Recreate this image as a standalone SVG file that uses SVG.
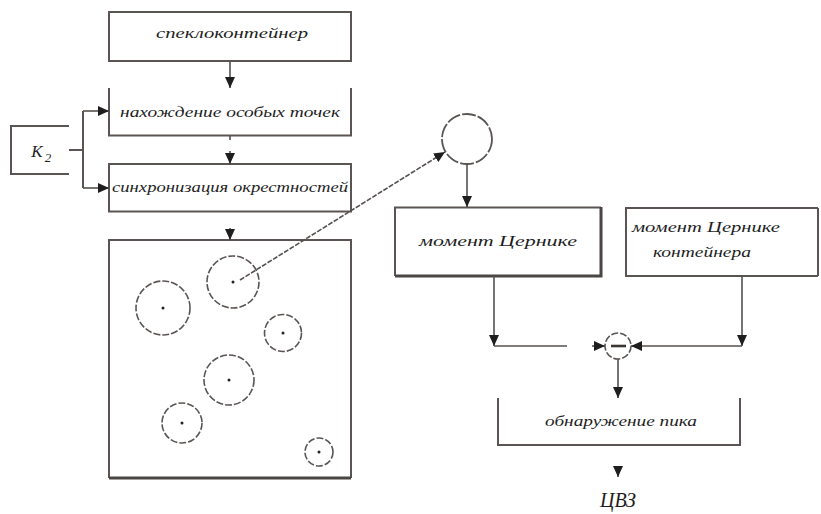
<svg xmlns="http://www.w3.org/2000/svg" width="821" height="514" viewBox="0 0 821 514">
<style>
.b{fill:none;stroke:#5a5552;stroke-width:2}
.bt{fill:none;stroke:#4a4644;stroke-width:3}
.t{font-family:"Liberation Serif","Times New Roman",serif;font-style:italic;font-size:15px;fill:#1e1e1e;text-anchor:middle}
.c{stroke:#55504d;stroke-width:1.6;fill:none}
.dc{fill:none;stroke:#5a5552;stroke-width:1.6;stroke-dasharray:7 2}
.dot{fill:#222}
</style>
<defs>
<marker id="ah" markerUnits="userSpaceOnUse" markerWidth="12" markerHeight="10" refX="11" refY="5" orient="auto">
<path d="M0,0 L11,5 L0,10 Z" fill="#1e1e1e"/>
</marker>
</defs>
<rect width="821" height="514" fill="#fff"/>

<g id="speckle">
<rect class="b" x="109" y="12" width="242" height="49"/>
<text class="t" x="232" y="38" textLength="152" lengthAdjust="spacingAndGlyphs">спеклоконтейнер</text>
</g>

<g id="points">
<path class="b" d="M109,88 V135.5 H351 V88"/>
<text class="t" x="230" y="117" textLength="220" lengthAdjust="spacingAndGlyphs">нахождение особых точек</text>
</g>

<g id="sync">
<rect class="b" x="109" y="164" width="242" height="47.5"/>
<text class="t" x="230" y="192" textLength="236" lengthAdjust="spacingAndGlyphs">синхронизация окрестностей</text>
</g>

<g id="k2">
<path class="b" d="M69,126 H11 V174 H69"/>
<text class="t" x="37" y="157" style="font-size:17px">K</text>
<text class="t" x="48" y="162" style="font-size:13px">2</text>
</g>

<g id="image">
<path class="b" d="M109,478 V240 H351 V478"/>
<line class="bt" x1="109" y1="478" x2="351" y2="478"/>
<circle class="dc" cx="233" cy="282" r="26"/>
<circle class="dc" cx="163" cy="308" r="27"/>
<circle class="dc" cx="283" cy="333" r="18.5"/>
<circle class="dc" cx="229" cy="380" r="25"/>
<circle class="dc" cx="182" cy="423" r="20"/>
<circle class="dc" cx="319" cy="452" r="14"/>
<circle class="dot" cx="233" cy="282" r="1.5"/>
<circle class="dot" cx="163" cy="308" r="1.5"/>
<circle class="dot" cx="283" cy="333" r="1.5"/>
<circle class="dot" cx="229" cy="380" r="1.5"/>
<circle class="dot" cx="182" cy="423" r="1.5"/>
<circle class="dot" cx="319" cy="452" r="1.5"/>
</g>

<g id="region">
<circle cx="467" cy="139" r="25" fill="none" stroke="#5a5552" stroke-width="1.8" stroke-dasharray="14 2"/>
</g>

<g id="zernike">
<path class="b" d="M395,276 V207.5 H601"/>
<path class="bt" d="M601,207 V276 H395"/>
<text class="t" x="498" y="246" textLength="158" lengthAdjust="spacingAndGlyphs">момент  Цернике</text>
</g>

<g id="zernike-container">
<path class="b" d="M818,276 H626 V208 H818"/>
<line class="b" x1="818" y1="208" x2="818" y2="276"/>
<text class="t" x="706" y="232" textLength="148" lengthAdjust="spacingAndGlyphs">момент  Цернике</text>
<text class="t" x="702" y="257" textLength="98" lengthAdjust="spacingAndGlyphs">контейнера</text>
</g>

<g id="minus">
<circle class="dc" cx="618" cy="346" r="13" stroke-dasharray="6 2"/>
<line x1="611" y1="346" x2="626" y2="346" stroke="#3a3633" stroke-width="2.6"/>
</g>

<g id="detect">
<path class="b" d="M498,398 V445 H740 V398"/>
<text class="t" x="621" y="426" textLength="152" lengthAdjust="spacingAndGlyphs">обнаружение пика</text>
</g>

<g id="wm">
<text class="t" x="618" y="507" style="font-size:20px">ЦВЗ</text>
</g>

<g id="connectors">
<line class="c" x1="230" y1="61" x2="230" y2="88" marker-end="url(#ah)"/>
<line class="c" x1="230" y1="136" x2="230" y2="140"/>
<line class="c" x1="230" y1="151" x2="230" y2="164" marker-end="url(#ah)"/>
<line class="c" x1="230" y1="228" x2="230" y2="240" marker-end="url(#ah)"/>
<path class="b" d="M69,150 H83 M83,111 V188"/>
<line class="c" x1="83" y1="111" x2="109" y2="111" stroke-width="2" marker-end="url(#ah)"/>
<line class="c" x1="83" y1="188" x2="109" y2="188" stroke-width="2" marker-end="url(#ah)"/>
<line class="c" x1="240" y1="280" x2="445" y2="152" stroke-dasharray="5 1.5" marker-end="url(#ah)"/>
<line class="c" x1="467" y1="164" x2="467" y2="207" marker-end="url(#ah)"/>
<line class="c" x1="494" y1="276" x2="494" y2="346" marker-end="url(#ah)"/>
<line class="c" x1="494" y1="346" x2="567" y2="346"/>
<line class="c" x1="592" y1="346" x2="605" y2="346" marker-end="url(#ah)"/>
<line class="c" x1="742" y1="276" x2="742" y2="346" stroke-width="2.4" marker-end="url(#ah)"/>
<line class="c" x1="742" y1="346" x2="631" y2="346" marker-end="url(#ah)"/>
<line class="c" x1="618" y1="359" x2="618" y2="398" stroke-width="2" marker-end="url(#ah)"/>
<line class="c" x1="618" y1="468" x2="618" y2="477" marker-end="url(#ah)"/>
</g>
</svg>
